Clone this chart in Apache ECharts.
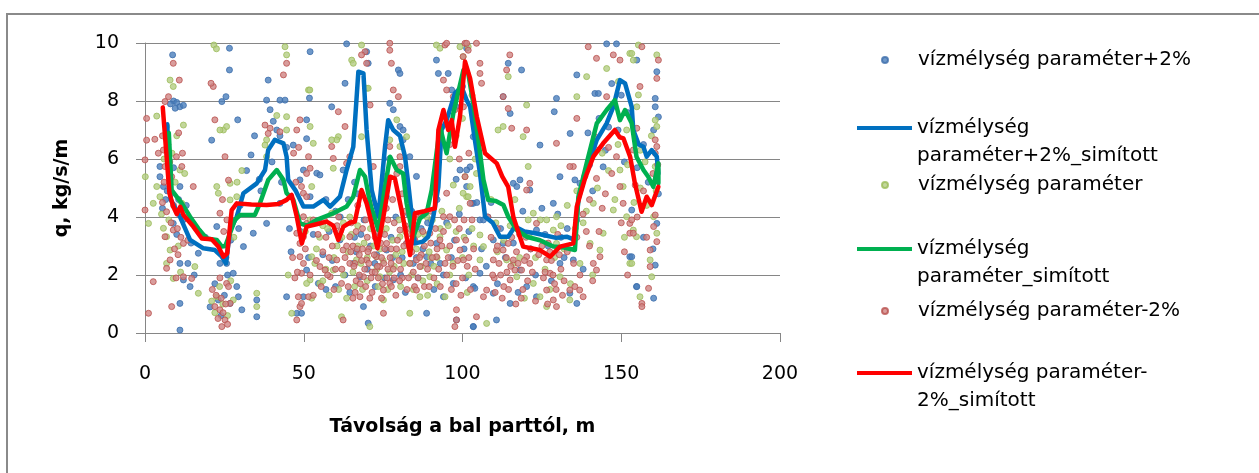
<!DOCTYPE html>
<html>
<head>
<meta charset="utf-8">
<script src="https://cdn.jsdelivr.net/npm/echarts@6/dist/echarts.min.js"></script>
<style>
  html, body { margin: 0; padding: 0; background: #fff; }
  #frame { position: absolute; left: 6px; top: 13px; width: 1400px; height: 600px; border: 2px solid #8a8a8a; box-sizing: border-box; }
  #chart { position: absolute; left: 0; top: 0; width: 1259px; height: 473px; }
</style>
</head>
<body>
<div id="frame"></div>
<div id="chart"></div>
<script>
// Series names
const nameBlueDots = 'vízmélység paraméter+2%';
const nameBlueLine = 'vízmélység paraméter+2%_simított';
const nameGreenDots = 'vízmélység paraméter';
const nameGreenLine = 'vízmélység paraméter_simított';
const nameRedDots = 'vízmélység paraméter-2%';
const nameRedLine = 'vízmélység paraméter-2%_simított';

// Axis ticks
const xTicks = [0, 50, 100, 150, 200];
const yTicks = [0, 2, 4, 6, 8, 10];

// Measured points [distance m, q kg/s/m], depth parameter +2%
const bluePoints = [
  [8.7,9.59],[26.6,9.82],[26.6,9.07],[9.0,8.0],[10.0,7.95],[11.0,7.8],[12.1,7.85],[9.5,7.75],[8.0,7.9],[25.5,8.15],
  [24.2,7.98],[29.2,7.35],[21.0,6.65],[33.4,6.14],[38.3,8.03],[38.8,8.72],[42.5,8.03],[44.1,8.03],[52.0,9.7],[51.8,8.1],
  [50.9,7.35],[50.9,6.7],[39.4,7.7],[40.4,7.3],[41.5,7.0],[42.5,6.8],[44.6,6.4],[46.7,6.48],[4.7,5.74],[4.7,5.39],
  [5.8,5.05],[6.5,4.6],[11.0,5.05],[10.6,4.6],[8.9,3.78],[11.0,2.4],[12.1,1.83],[11.0,1.02],[11.0,0.1],[16.8,2.75],
  [14.2,1.6],[22.6,3.67],[23.6,2.4],[25.7,2.4],[27.8,2.06],[28.9,1.6],[29.4,1.25],[23.1,1.14],[26.8,1.02],[31.0,2.98],
  [34.1,3.44],[35.2,1.14],[35.2,0.56],[38.3,3.78],[42.5,4.47],[44.6,1.25],[47.8,0.68],[50.9,2.17],[52.0,4.7],[48.8,5.28],
  [54.1,5.51],[63.5,9.97],[69.8,9.7],[70.3,9.3],[79.8,9.07],[80.3,8.95],[63.0,8.61],[58.8,7.8],[91.8,9.41],[92.4,8.95],
  [95.5,8.95],[96.6,8.38],[101.3,9.82],[77.1,7.92],[78.2,7.7],[80.3,7.12],[81.3,7.0],[81.3,6.66],[55.1,5.45],[49.9,5.62],
  [62.4,5.62],[75.1,5.4],[83.4,6.08],[85.5,5.4],[102.9,4.47],[103.4,6.77],[99.2,5.62],[101.3,5.05],[54.6,1.71],[49.9,1.25],
  [49.3,0.68],[61.4,3.21],[65.6,2.4],[67.7,1.94],[68.8,0.91],[70.3,0.34],[72.4,2.4],[76.1,2.86],[78.2,1.83],[82.4,3.09],
  [84.5,2.4],[88.7,0.68],[88.7,2.63],[91.8,3.09],[94.0,1.25],[97.1,1.71],[98.1,0.45],[103.4,0.22],[103.4,1.6],[105.5,2.06],
  [118.6,9.07],[114.4,9.3],[115.0,7.57],[112.8,8.15],[129.6,8.09],[124.4,6.48],[128.9,7.63],[133.9,6.88],[136.0,8.9],[145.4,9.97],
  [148.5,9.97],[141.7,8.26],[142.8,8.26],[144.3,5.73],[102.4,5.73],[101.3,5.62],[103.4,4.47],[105.5,3.9],[106.6,3.9],[109.7,3.21],
  [112.8,3.09],[116.0,5.16],[118.1,5.28],[117.1,5.05],[121.2,4.93],[123.3,3.55],[128.6,4.47],[130.7,5.39],[135.4,5.28],[137.0,5.16],
  [134.9,2.52],[133.8,1.37],[136.0,1.02],[103.9,1.54],[109.7,1.37],[110.7,0.45],[103.4,0.22],[115.0,1.02],[118.1,2.17],[120.2,1.6],
  [123.3,1.25],[130.7,2.4],[152.7,2.63],[154.8,1.6],[154.9,9.41],[161.2,9.01],[160.7,8.09],[160.7,7.8],[161.7,7.45],[160.2,7.0],
  [161.2,3.78],[160.7,2.34],[154.9,1.6],[160.2,1.2],[153.3,2.63],[153.3,4.24],[13.0,4.4],[17.0,3.5],[19.0,3.3],[30.0,4.4],
  [36.0,5.3],[57.0,4.6],[60.0,4.2],[66.0,5.2],[72.0,4.1],[77.0,6.0],[87.0,3.6],[90.0,3.9],[95.0,7.2],[98.0,7.8],
  [100.0,8.5],[108.0,4.0],[112.0,3.6],[126.0,3.4],[131.0,3.3],[140.0,5.8],[146.0,7.1],[150.0,8.2],[157.0,6.5],
  [53.0,3.4],[56.0,2.7],[58.0,3.5],[60.0,1.6],[63.0,2.0],[64.0,4.6],[66.0,3.3],[67.0,4.8],[69.0,3.9],[70.0,2.2],
  [72.5,1.6],[74.0,3.4],[76.0,4.7],[78.0,2.6],[79.0,4.0],[80.5,2.0],[82.0,1.4],[84.0,4.2],[86.0,1.9],[87.5,2.9],
  [89.0,3.8],[91.0,1.5],[92.0,4.6],[93.0,2.4],[95.0,3.8],[96.5,2.6],[98.0,5.3],[99.0,4.1],[100.5,2.9],[102.0,3.5],
  [104.5,4.5],[5.5,4.3],[7.0,4.9],[7.5,6.1],[9.0,5.7],[10.0,3.4],[12.0,3.9],[13.5,2.4],[14.5,3.1],[15.5,2.0],
  [20.5,0.9],[22.0,1.7],[24.0,0.6],[25.0,1.3],[26.0,2.0],[27.0,3.2],[29.5,3.6],[30.5,0.8],[32.0,5.6],[34.5,6.8],
  [36.5,4.9],[40.0,5.9],[43.0,5.2],[45.5,3.6],[46.0,2.8],[49.0,3.5],[106.0,2.9],[107.5,2.3],[109.0,4.5],[111.0,1.7],
  [113.5,2.6],[116.0,3.1],[117.5,1.4],[119.0,4.2],[121.5,2.9],[123.0,2.0],[125.0,4.3],[127.0,3.0],[128.0,1.8],[130.0,4.1],
  [132.0,2.6],[133.0,3.6],[136.0,3.9],[138.0,2.2],[139.5,6.9],[141.0,4.9],[143.0,7.4],[145.0,6.3],[147.0,8.6],[149.0,7.0],
  [151.0,5.9],[152.0,7.6],[155.0,5.7],[157.0,3.3],[158.5,5.2],[160.0,2.9],[161.7,4.8],
  [51.5,2.6],[55.0,3.8],[57.0,1.5],[59.0,2.5],[61.5,4.0],[64.5,1.4],[66.5,2.8],[68.0,3.4],[71.0,3.0],[73.0,2.7],
  [75.5,1.9],[77.5,3.3],[81.0,2.6],[83.0,4.1],[85.5,2.6],[88.0,4.1],[90.0,2.4],[94.0,2.0],[97.5,3.2],[101.0,1.9]
];

// Measured points, depth parameter as given
const greenPoints = [
  [21.7,9.93],[22.5,9.8],[44.1,9.87],[44.6,9.59],[7.9,8.72],[8.9,8.5],[3.7,7.48],[6.8,7.12],[12.1,7.17],[10.0,6.8],
  [24.7,7.0],[25.7,7.12],[23.6,7.0],[0.1,5.39],[2.6,4.47],[3.7,5.05],[4.7,4.7],[5.8,3.61],[6.8,3.32],[7.9,2.86],
  [6.8,2.4],[8.9,1.88],[11.6,4.47],[11.0,5.62],[22.6,5.05],[23.1,4.82],[28.9,4.7],[26.8,4.59],[38.3,6.66],[37.8,6.48],
  [41.5,7.5],[44.6,7.46],[44.6,7.0],[51.5,8.38],[52.0,7.12],[53.0,6.54],[45.1,2.0],[46.2,0.68],[35.2,1.37],[35.2,0.91],
  [16.8,1.37],[15.7,2.29],[22.6,1.25],[27.8,1.14],[52.0,1.83],[52.5,2.63],[26.8,5.16],[38.3,6.08],[1.1,3.78],[68.2,9.93],
  [65.1,9.41],[65.6,9.3],[91.8,9.93],[92.9,9.82],[99.2,9.87],[51.9,8.38],[69.8,8.44],[70.3,8.44],[60.9,6.77],[60.4,6.66],
  [58.8,6.66],[68.2,6.77],[77.1,6.66],[79.3,7.35],[80.3,6.43],[82.4,6.77],[59.3,5.68],[97.1,5.1],[101.3,4.7],[102.4,5.05],
  [104.4,5.5],[52.5,5.05],[58.8,4.13],[64.5,4.0],[74.0,1.94],[80.3,3.32],[83.4,2.4],[86.6,1.25],[89.7,1.94],[92.9,3.32],
  [95.0,2.86],[88.7,4.01],[61.9,0.56],[70.8,0.22],[75.1,1.14],[83.4,0.68],[50.9,1.71],[55.1,1.71],[59.3,2.17],[66.6,2.52],
  [72.9,2.63],[94.5,1.25],[52.0,3.9],[56.0,3.7],[62.0,3.3],[67.0,3.0],[71.0,3.6],[74.0,2.9],[78.0,3.2],[81.0,2.8],
  [85.0,3.6],[90.0,2.6],[96.0,6.0],[98.0,6.8],[100.0,7.4],[103.0,8.2],[104.0,6.0],[101.8,9.87],[100.2,9.53],[114.4,8.84],
  [120.2,7.86],[112.8,7.12],[111.2,7.0],[119.1,6.77],[120.7,5.74],[136.0,8.15],[139.1,8.84],[145.4,9.12],[149.1,8.67],[152.7,9.64],
  [153.8,9.41],[151.7,7.0],[149.6,5.62],[150.6,5.05],[147.5,4.24],[151.7,4.01],[153.8,3.55],[154.8,3.32],[100.8,5.39],[100.2,4.82],
  [101.8,4.7],[105.5,3.38],[106.6,2.98],[105.5,2.52],[107.6,0.33],[120.7,3.9],[122.3,4.13],[126.5,3.9],[129.6,4.01],[128.6,3.55],
  [129.6,3.09],[143.3,2.86],[144.3,3.44],[141.2,4.47],[140.2,3.09],[116.0,2.4],[117.1,1.94],[122.3,1.71],[124.4,1.25],[126.5,0.91],
  [133.8,1.14],[130.7,1.94],[152.7,2.4],[113.9,2.52],[138.0,3.8],[136.0,4.9],[133.0,4.4],[155.4,9.93],[153.3,9.64],[161.2,9.59],
  [154.9,7.8],[155.4,8.21],[160.7,7.34],[161.2,7.12],[160.7,5.74],[160.2,4.01],[161.2,3.44],[159.1,2.52],[159.6,1.94],[155.9,1.25],
  [153.3,2.4],[157.5,5.9],[156.0,5.0],
  [53.5,2.4],[55.0,3.3],[57.0,2.2],[58.0,1.3],[60.5,3.0],[62.5,2.0],[63.5,1.2],[65.0,3.4],[66.0,1.6],[68.0,2.4],
  [69.0,3.1],[70.0,1.8],[72.0,3.0],[73.0,2.2],[75.0,2.5],[76.0,3.6],[77.0,2.1],[79.0,2.7],[80.5,1.6],[82.0,3.5],
  [84.0,2.0],[85.5,2.9],[87.0,2.3],[88.0,3.4],[89.0,1.3],[91.0,2.3],[92.0,1.7],[93.5,4.2],[95.5,3.7],[97.0,2.4],
  [99.0,4.3],[100.5,3.3],[102.0,2.0],[103.5,3.0],[5.2,4.1],[6.0,6.0],[7.5,3.9],[8.5,6.2],[9.5,5.2],[10.5,3.0],
  [11.2,2.1],[12.5,5.5],[21.0,1.1],[22.0,0.7],[23.5,1.6],[24.5,1.0],[26.0,0.6],[27.0,1.8],[29.0,5.2],[30.5,5.6],
  [28.0,3.3],[109.0,4.6],[110.5,3.8],[111.0,2.8],[113.0,3.2],[115.0,3.7],[116.5,4.6],[118.0,2.6],[119.5,1.2],[121.0,3.4],
  [123.0,2.6],[124.5,3.9],[126.0,2.2],[127.5,1.5],[129.0,2.6],[131.0,3.7],[132.0,2.9],[134.0,1.7],[135.5,3.6],[137.0,2.4],
  [139.0,4.2],[141.0,2.0],[142.5,5.0],[144.0,6.2],[146.0,5.6],[148.0,4.6],[149.0,6.5],[151.0,3.3],[152.0,5.8],[154.0,4.5],
  [156.0,6.3],[158.0,4.4],[159.5,6.8],[161.0,4.9],
  [50.5,3.5],[52.5,1.2],[54.0,2.9],[56.0,1.8],[57.5,3.6],[59.5,2.6],[61.0,1.5],[62.5,3.8],[64.0,2.8],[65.5,2.1],
  [67.0,3.7],[68.5,1.5],[70.0,2.6],[71.5,3.9],[73.5,1.6],[74.5,3.5],[76.5,1.5],[78.5,2.3],[80.0,3.9],[81.5,2.4],
  [83.0,3.0],[84.5,1.5],[86.0,3.4],[87.5,1.8],[89.5,2.8],[90.5,3.9],[92.0,2.6],[93.0,3.6],[96.0,2.0],[98.0,3.5],
  [100.0,2.6],[101.5,1.4],[103.0,3.6]
];

// Measured points, depth parameter -2%
const redPoints = [
  [8.9,9.3],[10.8,8.72],[7.4,8.15],[6.3,7.98],[0.5,7.4],[3.1,6.68],[0.5,6.65],[22.0,7.35],[21.5,8.5],[20.8,8.61],
  [0.0,5.97],[0.0,4.24],[1.1,0.68],[2.6,1.77],[5.8,6.31],[6.3,5.74],[8.4,5.39],[6.8,4.18],[9.9,6.08],[11.6,5.74],
  [8.9,3.55],[6.3,3.32],[7.9,2.52],[6.8,2.23],[8.4,0.91],[12.1,1.94],[12.1,3.09],[15.2,5.05],[14.7,1.88],[22.0,0.91],
  [23.6,0.8],[25.2,0.45],[24.2,0.22],[25.7,1.71],[26.8,1.02],[23.6,4.13],[25.2,6.08],[26.3,5.27],[26.3,1.6],[37.8,7.17],
  [39.4,7.06],[38.8,6.88],[42.5,6.94],[43.6,8.9],[44.6,9.3],[47.8,7.0],[48.8,7.35],[49.9,4.82],[50.9,3.78],[47.8,3.44],
  [48.8,3.09],[49.9,2.4],[48.3,1.25],[47.8,0.45],[48.8,0.91],[51.5,1.25],[51.5,6.08],[52.0,5.68],[4.2,6.2],[5.5,4.5],
  [9.0,4.4],[10.2,3.6],[13.5,3.2],[24.8,3.5],[25.5,2.6],[24.0,1.2],[69.3,9.7],[68.2,9.59],[69.8,9.3],[77.1,9.99],
  [77.6,9.3],[77.1,9.75],[78.2,8.38],[79.8,8.15],[70.9,7.86],[94.5,9.93],[95.0,9.99],[100.8,9.99],[101.8,9.75],[97.1,8.15],
  [97.6,7.7],[100.3,7.8],[94.0,8.72],[95.0,8.38],[60.9,7.63],[63.0,7.12],[58.8,6.43],[59.3,6.02],[64.5,6.08],[63.5,5.85],
  [71.9,5.74],[77.1,6.43],[80.3,6.08],[80.3,5.74],[79.3,5.5],[50.9,5.5],[49.3,5.05],[50.9,4.7],[49.9,4.01],[49.9,3.32],
  [48.8,2.63],[49.3,2.06],[49.3,1.02],[55.1,2.29],[56.7,2.17],[58.3,1.94],[60.4,2.52],[62.4,2.86],[64.5,3.32],[66.1,2.4],
  [68.8,1.94],[69.8,2.52],[72.9,2.63],[74.0,2.29],[76.1,3.09],[77.1,1.71],[77.6,1.6],[80.3,3.55],[82.4,3.09],[85.5,2.52],
  [86.6,2.29],[83.4,2.4],[84.9,1.6],[89.7,3.44],[91.8,2.63],[92.9,3.21],[94.5,2.4],[94.0,4.01],[95.0,4.82],[96.0,4.01],
  [98.1,3.21],[99.2,2.86],[100.3,2.52],[98.1,0.45],[98.1,0.8],[97.6,0.22],[75.1,0.68],[67.7,1.25],[62.4,0.45],[61.9,1.71],
  [75.1,1.48],[85.5,1.48],[53.0,3.9],[57.0,3.3],[61.0,4.0],[65.0,3.8],[67.0,4.4],[70.0,3.3],[72.0,4.5],[74.0,3.7],
  [76.0,4.3],[78.0,4.6],[81.0,4.8],[82.0,4.2],[84.0,3.4],[86.0,4.1],[88.0,3.0],[90.0,4.2],[96.0,6.5],[99.0,6.0],
  [102.0,6.2],[104.0,7.2],[104.4,9.99],[101.3,9.99],[100.2,9.53],[105.5,9.3],[106.0,8.61],[105.5,8.95],[114.9,9.59],[113.9,9.07],
  [112.8,8.15],[114.4,7.74],[120.2,7.0],[115.5,7.06],[139.6,9.87],[142.2,9.47],[147.5,9.59],[149.6,9.41],[145.4,8.15],[136.0,7.4],
  [129.6,6.54],[141.7,6.77],[142.2,6.31],[134.9,5.74],[133.8,5.74],[138.5,5.4],[142.2,5.33],[148.5,6.08],[153.8,6.31],[149.6,5.05],
  [150.6,4.47],[152.7,3.78],[152.7,3.44],[100.8,5.39],[102.4,4.47],[110.7,2.86],[112.8,2.86],[114.4,3.09],[109.7,2.52],[107.6,1.48],
  [106.6,1.25],[104.4,0.56],[115.0,1.83],[116.0,2.52],[116.5,2.17],[120.2,2.63],[118.6,2.17],[121.2,2.4],[120.2,4.93],[121.2,5.16],
  [123.3,3.78],[126.5,2.52],[127.6,2.06],[126.5,1.48],[128.6,1.14],[129.6,0.91],[133.8,1.48],[135.4,1.6],[136.9,1.48],[138.0,1.25],
  [141.2,2.4],[143.3,2.63],[142.2,2.17],[108.0,4.0],[111.0,3.6],[118.0,3.4],[125.0,3.0],[131.0,2.2],[139.0,3.5],[140.0,4.6],
  [144.0,4.3],[146.0,6.4],[156.5,9.87],[161.7,9.41],[161.2,8.78],[155.9,8.5],[154.9,7.06],[160.7,6.66],[161.2,6.43],[160.7,6.2],
  [154.4,5.1],[160.7,4.07],[160.2,3.67],[161.2,3.15],[159.1,2.86],[159.1,2.29],[158.6,1.54],[156.5,1.02],[156.5,0.91],[153.8,3.44],
  [153.3,3.9],[157.0,4.9],
  [54.0,2.5],[56.0,2.8],[57.5,2.0],[59.0,3.0],[60.0,2.2],[61.5,3.5],[63.0,2.6],[64.0,1.6],[65.5,3.0],[66.5,1.8],
  [67.5,2.7],[68.5,3.6],[69.5,1.6],[70.5,2.9],[71.5,2.1],[72.5,3.3],[73.5,1.9],[74.5,2.6],[75.5,3.4],[76.5,2.2],
  [77.5,2.9],[78.5,3.8],[79.0,1.3],[80.0,2.5],[81.0,1.9],[82.0,3.7],[83.0,1.9],[84.0,2.8],[85.0,3.2],[86.0,1.9],
  [87.0,2.7],[88.0,1.6],[89.0,2.2],[90.0,3.1],[91.0,1.9],[92.0,2.9],[93.0,1.6],[94.0,3.5],[95.0,2.0],[96.0,3.0],
  [97.0,2.3],[98.0,1.7],[99.0,3.6],[100.0,1.9],[101.0,3.2],[102.0,2.6],[103.0,3.9],[104.0,2.2],[5.5,6.8],[6.0,5.2],
  [7.2,6.5],[7.8,5.9],[8.2,3.8],[9.3,2.9],[9.8,1.9],[10.4,2.7],[11.3,3.3],[10.6,6.9],[11.8,6.2],[21.2,1.5],
  [22.4,1.3],[23.0,0.5],[23.6,1.9],[24.6,0.7],[25.4,1.0],[26.0,0.3],[24.4,4.6],[25.8,3.9],[46.5,2.6],[47.2,1.9],
  [48.0,2.1],[47.5,5.2],[46.8,6.2],[48.4,6.4],[109.0,3.3],[110.0,1.9],[111.5,2.4],[113.0,1.6],[114.0,2.1],[115.5,3.3],
  [117.0,2.8],[119.0,1.5],[120.0,3.3],[122.0,2.1],[123.0,1.1],[124.0,2.7],[125.5,1.9],[127.0,3.1],[128.0,2.5],[129.0,1.7],
  [130.0,3.4],[132.0,1.8],[133.0,2.8],[135.0,2.4],[136.0,3.3],[137.0,2.0],[138.0,4.1],[140.0,3.0],[141.0,1.8],[143.0,3.5],
  [145.0,4.8],[147.0,5.5],[150.0,3.8],[151.0,2.8],[152.0,2.0],[155.0,4.0],[158.0,3.3],[160.0,5.5],[161.5,5.8],
  [50.5,2.9],[52.0,2.0],[53.0,1.3],[54.5,3.4],[55.5,1.6],[56.5,3.9],[58.0,2.6],[59.5,1.5],[60.5,3.7],[62.0,2.2],
  [63.5,3.0],[64.5,2.4],[65.5,1.2],[66.5,3.5],[67.5,2.0],[68.5,2.9],[69.5,3.9],[70.5,2.4],[71.5,1.4],[72.5,2.1],
  [73.5,3.5],[74.5,1.2],[75.5,2.9],[76.5,3.9],[77.5,2.4],[78.5,1.9],[79.5,3.2],[80.5,2.2],[81.5,3.0],[82.5,1.5],
  [83.5,3.6],[84.5,2.1],[85.5,4.0],[86.5,2.6],[87.5,3.5],[88.5,2.4],[89.5,1.6],[90.5,2.6],[91.5,3.6],[92.5,2.2],
  [93.5,3.0],[95.5,2.6],[96.5,1.5],[97.5,3.9],[98.5,2.5],[99.5,1.3],[100.5,3.9],[101.5,2.3],[102.5,1.5],[103.5,2.9],
  [64.8,2.8],[65.8,2.3],[66.8,2.9],[67.8,1.7],[68.2,2.5],[69.2,2.2],[70.2,2.8],[71.2,1.9],[72.2,2.7],[73.2,2.3],
  [74.2,3.1],[75.2,2.4],[76.2,1.9],[77.2,2.6],[78.2,2.2],[79.2,2.9],[80.2,1.8],[66.2,1.4],[70.8,1.2],[74.8,1.7],
  [109.5,2.0],[110.3,1.4],[111.0,3.0],[112.0,2.0],[112.5,1.2],[113.8,2.6],[114.5,1.5],[115.2,2.3],[116.8,1.0],[117.5,2.4],
  [118.5,1.2],[119.5,2.5],[120.5,1.8],[121.5,2.9],[126.0,2.1],[126.8,1.0],[127.5,2.8],[128.5,2.0],[129.5,1.5],[130.5,2.7],
  [131.5,1.3]
];

// Smoothed curves
const blueSmooth = [
  [7.0,7.2],[8.1,4.6],[11.0,4.01],[14.2,3.21],[18.4,2.92],[22.0,2.86],[24.2,2.63],[25.5,2.4],[26.8,3.55],[28.9,4.01],
  [31.0,4.82],[35.2,5.16],[37.8,5.62],[38.8,6.31],[40.9,6.66],[43.6,6.54],[44.6,6.08],[45.1,5.28],[47.5,4.9],[49.9,4.36],
  [53.0,4.36],[56.2,4.59],[58.3,4.36],[61.4,4.7],[63.5,5.62],[65.6,6.42],[67.2,9.01],[68.8,8.95],[69.8,7.0],[71.4,4.93],
  [73.5,4.01],[75.6,6.42],[76.6,7.34],[78.2,7.0],[80.3,6.8],[81.9,6.08],[82.9,5.16],[85.0,3.09],[87.5,3.15],[89.2,3.32],
  [90.8,4.01],[92.4,5.04],[93.4,7.0],[95.0,7.34],[97.6,8.26],[99.7,8.49],[101.3,8.03],[102.4,7.8],[103.9,6.66],[105.5,5.51],
  [107.1,4.01],[109.5,3.8],[111.8,3.32],[114.4,3.32],[116.5,3.67],[119.5,3.5],[122.5,3.45],[125.5,3.38],[129.5,3.28],[132.8,3.32],
  [135.4,3.21],[136.5,4.59],[139.1,5.62],[142.3,6.66],[145.4,7.23],[147.5,7.8],[149.6,8.72],[151.2,8.61],[153.3,7.8],[153.8,7.0],
  [155.5,6.5],[157.0,6.42],[158.0,6.08],[159.6,6.31],[161.2,6.08],[161.7,5.5]
];

const greenSmooth = [
  [7.5,6.9],[8.4,4.93],[11.6,4.47],[14.2,4.01],[16.8,3.6],[19.4,3.26],[22.6,3.21],[24.2,2.98],[25.3,3.0],[28.3,3.9],
  [30.0,4.07],[34.6,4.07],[36.2,4.47],[38.8,5.28],[41.5,5.62],[43.6,5.28],[44.6,4.82],[46.7,4.6],[48.8,3.78],[51.0,3.7],
  [54.1,3.9],[59.3,4.13],[63.5,4.36],[65.6,4.7],[67.7,5.62],[69.3,5.39],[70.9,4.47],[73.5,3.55],[75.6,5.04],[77.2,6.08],
  [79.3,5.62],[81.3,5.5],[82.4,4.47],[84.5,3.32],[86.6,3.95],[88.7,4.13],[90.3,4.93],[92.9,7.11],[95.0,6.2],[97.1,7.57],
  [100.3,9.07],[101.8,8.95],[103.4,7.92],[105.0,6.66],[106.6,5.28],[108.1,4.59],[110.5,4.55],[112.9,4.41],[114.4,4.01],[117.1,3.55],
  [120.2,3.32],[124.4,3.2],[128.6,2.98],[132.0,2.95],[135.4,2.86],[136.5,4.7],[139.1,5.85],[142.3,7.23],[145.4,7.69],[148.0,8.03],
  [149.6,7.34],[151.2,7.69],[153.3,7.23],[154.8,6.08],[157.0,5.62],[158.5,5.39],[160.1,5.04],[161.7,5.85],[161.7,5.16]
];

const redSmooth = [
  [5.6,7.78],[7.7,4.82],[8.9,4.36],[10.0,4.1],[11.1,4.35],[12.1,4.07],[15.2,3.67],[17.9,3.26],[21.0,3.23],[23.1,2.98],
  [24.7,2.63],[25.9,2.75],[27.3,4.24],[28.9,4.47],[33.5,4.43],[38.3,4.41],[42.0,4.45],[44.6,4.59],[46.2,4.76],[47.8,4.01],
  [49.4,3.09],[50.9,3.67],[54.0,3.75],[57.2,3.84],[59.3,3.7],[60.9,3.21],[62.5,3.67],[64.5,3.8],[66.1,3.84],[68.2,4.93],
  [69.8,4.47],[71.4,3.78],[73.2,2.92],[75.1,4.01],[77.2,5.39],[78.7,5.33],[80.8,4.24],[83.5,2.69],[85.0,4.13],[88.0,4.2],
  [91.3,4.3],[92.4,7.0],[94.0,7.69],[95.5,7.0],[96.6,7.34],[97.6,6.42],[99.2,7.46],[100.8,9.36],[102.4,8.78],[104.5,7.46],
  [107.1,6.2],[110.8,5.85],[112.5,5.4],[114.4,5.04],[116.0,4.01],[119.1,2.98],[124.4,2.86],[127.6,2.63],[130.7,2.98],[134.9,3.09],
  [136.0,4.36],[138.5,5.3],[141.2,6.08],[144.3,6.54],[148.0,7.0],[149.5,6.75],[150.7,6.71],[152.8,6.08],[154.3,5.16],[156.4,4.18],
  [158.0,4.7],[159.6,4.41],[161.7,5.04]
];

const FONT = '"DejaVu Sans", "Open Sans", sans-serif';
const LEGEND_SIZE = 20;
const LEGEND_TEXT_X = 917;

const chart = echarts.init(document.getElementById('chart'), null, { renderer: 'canvas' });

function dots(name, data, fill, border) {
  return {
    name, type: 'scatter', data, symbol: 'circle', symbolSize: 6, z: 2,
    itemStyle: { color: fill, borderColor: border, borderWidth: 1 },
    emphasis: { disabled: true }
  };
}
function curve(name, data, color) {
  return {
    name, type: 'line', data, symbol: 'none', showSymbol: false, z: 5,
    lineStyle: { color, width: 4.5, join: 'round', cap: 'round' },
    itemStyle: { color },
    emphasis: { disabled: true }
  };
}

// One legend block per entry so each row sits at its own height
const legendText = { fontFamily: FONT, fontSize: LEGEND_SIZE, color: '#000', lineHeight: 22 };
function dotLegend(name, centerY) {
  return {
    orient: 'vertical', left: 881, top: centerY - 11, padding: 0, selectedMode: false,
    icon: 'circle', itemWidth: 6, itemHeight: 6, data: [name],
    textStyle: Object.assign({}, legendText, { padding: [0, 0, 0, LEGEND_TEXT_X - 892] })
  };
}
function lineLegend(name, centerY, firstLine) {
  return {
    orient: 'vertical', left: 857, top: centerY - 11, padding: 0, selectedMode: false,
    icon: 'rect', itemWidth: 55, itemHeight: 4, data: [name],
    formatter: () => firstLine,
    textStyle: legendText
  };
}
function legendLine2(text, centerY) {
  return {
    type: 'text', left: LEGEND_TEXT_X, top: centerY - 11, silent: true,
    style: { text, fontFamily: FONT, fontSize: LEGEND_SIZE, fill: '#000', lineHeight: 22 }
  };
}

chart.setOption({
  animation: false,
  backgroundColor: 'transparent',
  textStyle: { fontFamily: FONT },
  grid: { left: 145, top: 43, width: 635, height: 290, containLabel: false },
  xAxis: {
    type: 'value', min: xTicks[0], max: xTicks[xTicks.length - 1], interval: 50,
    name: 'Távolság a bal parttól, m', nameLocation: 'middle', nameGap: 85,
    nameTextStyle: { fontFamily: FONT, fontSize: 19, fontWeight: 'bold', color: '#000' },
    axisLine: { show: true, onZero: false, lineStyle: { color: '#868686', width: 1 } },
    axisTick: { show: true, length: 9, lineStyle: { color: '#868686' } },
    axisLabel: { margin: 32, fontFamily: FONT, fontSize: 19, color: '#000' },
    splitLine: { show: false }
  },
  yAxis: {
    type: 'value', min: yTicks[0], max: yTicks[yTicks.length - 1], interval: 2,
    name: 'q, kg/s/m', nameLocation: 'middle', nameGap: 73, nameRotate: 90,
    nameTextStyle: { fontFamily: FONT, fontSize: 19, fontWeight: 'bold', color: '#000' },
    axisLine: { show: true, lineStyle: { color: '#868686', width: 1 } },
    axisTick: { show: true, length: 9, lineStyle: { color: '#868686' } },
    axisLabel: { margin: 26, fontFamily: FONT, fontSize: 19, color: '#000' },
    splitLine: { show: true, lineStyle: { color: '#868686', width: 1 } }
  },
  legend: [
    dotLegend(nameBlueDots, 60),
    lineLegend(nameBlueLine, 128, 'vízmélység'),
    dotLegend(nameGreenDots, 185),
    lineLegend(nameGreenLine, 249, 'vízmélység'),
    dotLegend(nameRedDots, 311),
    lineLegend(nameRedLine, 373, 'vízmélység paraméter-')
  ],
  graphic: [
    legendLine2('paraméter+2%_simított', 156),
    legendLine2('paraméter_simított', 277),
    legendLine2('2%_simított', 401)
  ],
  series: [
    dots(nameBlueDots, bluePoints, '#4a7ebb', '#3d6eab'),
    curve(nameBlueLine, blueSmooth, '#0070c0'),
    dots(nameGreenDots, greenPoints, '#b4cd83', '#9bbb59'),
    curve(nameGreenLine, greenSmooth, '#00b050'),
    dots(nameRedDots, redPoints, '#cf8583', '#b9504d'),
    curve(nameRedLine, redSmooth, '#ff0000')
  ]
});
</script>
</body>
</html>
